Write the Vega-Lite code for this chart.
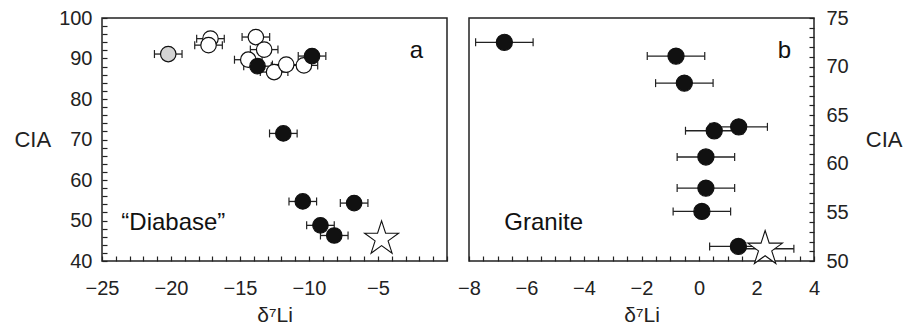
{
  "$schema": "https://vega.github.io/schema/vega-lite/v6.json",
  "spacing": 7,
  "padding": {"left": 13, "top": 7, "right": 0, "bottom": 0},
  "config": {
    "view": {"stroke": "#222", "strokeWidth": 1.5},
    "font": "Liberation Sans",
    "axis": {
      "grid": false,
      "domain": false,
      "tickColor": "#222",
      "tickWidth": 1.2,
      "tickSize": -5,
      "labelColor": "#222",
      "labelFontSize": 20,
      "labelFlush": false,
      "labelOverlap": false,
      "titleFontSize": 21,
      "titleFontWeight": "normal",
      "titleColor": "#222"
    }
  },
  "datasets": {
    "diabase": [
      {"kind": "grey", "d7li": -20.2, "cia": 91.1, "lo": -21.2, "hi": -19.2},
      {"kind": "open", "d7li": -17.14, "cia": 94.9, "lo": -18.14, "hi": -16.14},
      {"kind": "open", "d7li": -17.28, "cia": 93.3, "lo": -18.28, "hi": -16.28},
      {"kind": "open", "d7li": -13.85, "cia": 95.3, "lo": -14.85, "hi": -12.85},
      {"kind": "open", "d7li": -13.25, "cia": 92.2, "lo": -14.25, "hi": -12.25},
      {"kind": "open", "d7li": -14.4, "cia": 89.7, "lo": -15.4, "hi": -13.4},
      {"kind": "open", "d7li": -12.53, "cia": 86.65, "lo": -13.53, "hi": -11.53},
      {"kind": "open", "d7li": -11.65, "cia": 88.5, "lo": -12.65, "hi": -10.65},
      {"kind": "open", "d7li": -10.37, "cia": 88.3, "lo": -11.37, "hi": -9.37},
      {"kind": "filled", "d7li": -13.73, "cia": 88.1, "lo": -14.73, "hi": -12.73},
      {"kind": "filled", "d7li": -9.78, "cia": 90.6, "lo": -10.78, "hi": -8.78},
      {"kind": "filled", "d7li": -11.86, "cia": 71.5, "lo": -12.86, "hi": -10.86},
      {"kind": "filled", "d7li": -10.45, "cia": 54.7, "lo": -11.45, "hi": -9.45},
      {"kind": "filled", "d7li": -6.73, "cia": 54.3, "lo": -7.73, "hi": -5.73},
      {"kind": "filled", "d7li": -9.17, "cia": 48.8, "lo": -10.17, "hi": -8.17},
      {"kind": "filled", "d7li": -8.17, "cia": 46.3, "lo": -9.17, "hi": -7.17},
      {"kind": "star", "d7li": -4.74, "cia": 45.5},
      {"kind": "label", "d7li": -23.6, "cia": 47.7, "label": "“Diabase”"},
      {"kind": "label", "d7li": -2.7, "cia": 90.1, "label": "a"}
    ],
    "granite": [
      {"kind": "filled", "d7li": -6.77, "cia": 72.5, "lo": -7.77, "hi": -5.77},
      {"kind": "filled", "d7li": -0.8, "cia": 71.08, "lo": -1.8, "hi": 0.2},
      {"kind": "filled", "d7li": -0.51, "cia": 68.3, "lo": -1.51, "hi": 0.49},
      {"kind": "filled", "d7li": 0.53, "cia": 63.4, "lo": -0.47, "hi": 1.53},
      {"kind": "filled", "d7li": 1.38, "cia": 63.8, "lo": 0.38, "hi": 2.38},
      {"kind": "filled", "d7li": 0.24, "cia": 60.7, "lo": -0.76, "hi": 1.24},
      {"kind": "filled", "d7li": 0.24, "cia": 57.5, "lo": -0.76, "hi": 1.24},
      {"kind": "filled", "d7li": 0.1, "cia": 55.1, "lo": -0.9, "hi": 1.1},
      {"kind": "filled", "d7li": 1.37, "cia": 51.5, "lo": 0.37, "hi": 2.37},
      {"kind": "star", "d7li": 2.3, "cia": 51.26, "lo": 1.3, "hi": 3.3},
      {"kind": "label", "d7li": -6.77, "cia": 53.2, "label": "Granite"},
      {"kind": "label", "d7li": 2.74, "cia": 70.87, "label": "b"}
    ]
  },
  "hconcat": [
    {
      "width": 345,
      "height": 243,
      "data": {"name": "diabase"},
      "encoding": {
        "x": {
          "field": "d7li", "type": "quantitative",
          "scale": {"domain": [-25, 0], "nice": false, "zero": false},
          "axis": {
            "title": "δ⁷Li",
            "values": [-25,-24,-23,-22,-21,-20,-19,-18,-17,-16,-15,-14,-13,-12,-11,-10,-9,-8,-7,-6,-5,-4,-3,-2,-1,0],
            "labelExpr": "datum.value % 5 === 0 && datum.value !== 0 ? datum.label : ''",
            "labelPadding": 22,
            "titlePadding": 6
          }
        },
        "y": {
          "field": "cia", "type": "quantitative",
          "scale": {"domain": [40, 100], "nice": false, "zero": false},
          "axis": {
            "title": "CIA",
            "values": [40,42,44,46,48,50,52,54,56,58,60,62,64,66,68,70,72,74,76,78,80,82,84,86,88,90,92,94,96,98,100],
            "labelExpr": "datum.value % 10 === 0 ? datum.label : ''",
            "labelPadding": 15,
            "titleAngle": 0,
            "titleAlign": "right",
            "titleBaseline": "middle",
            "titleFontSize": 22,
            "titlePadding": 8
          }
        }
      },
      "layer": [
        {
          "transform": [{"filter": "isValid(datum.lo)"}],
          "mark": {"type": "rule", "color": "#222", "strokeWidth": 1.3},
          "encoding": {
            "x": {"field": "lo", "type": "quantitative"},
            "x2": {"field": "hi"}
          }
        },
        {
          "transform": [{"filter": "isValid(datum.lo)"}],
          "mark": {"type": "tick", "orient": "vertical", "size": 8, "thickness": 1.2, "color": "#222", "opacity": 1},
          "encoding": {
            "x": {"field": "lo", "type": "quantitative"}
          }
        },
        {
          "transform": [{"filter": "isValid(datum.lo)"}],
          "mark": {"type": "tick", "orient": "vertical", "size": 8, "thickness": 1.2, "color": "#222", "opacity": 1},
          "encoding": {
            "x": {"field": "hi", "type": "quantitative"}
          }
        },
        {
          "transform": [{"filter": "datum.kind === 'grey' || datum.kind === 'open' || datum.kind === 'filled'"}],
          "mark": {"type": "point", "shape": "circle", "filled": false, "stroke": "#111", "strokeWidth": 1.2, "size": 240, "opacity": 1},
          "encoding": {
            "fill": {
              "field": "kind", "type": "nominal", "legend": null,
              "scale": {"domain": ["grey", "open", "filled"], "range": ["#d4d4d4", "#ffffff", "#111111"]}
            }
          }
        },
        {
          "transform": [{"filter": "datum.kind === 'star'"}],
          "mark": {"type": "point", "shape": "M0,-1L0.2245,-0.309L0.951,-0.309L0.363,0.118L0.588,0.809L0,0.382L-0.588,0.809L-0.363,0.118L-0.951,-0.309L-0.2245,-0.309Z", "filled": false, "fill": "white", "stroke": "#111", "strokeWidth": 1.1, "size": 1280, "opacity": 1}
        },
        {
          "transform": [{"filter": "datum.kind === 'label'"}],
          "mark": {"type": "text", "align": "left", "baseline": "alphabetic", "fontSize": 24, "color": "#111"},
          "encoding": {
            "text": {"field": "label", "type": "nominal"}
          }
        }
      ]
    },
    {
      "width": 345,
      "height": 243,
      "data": {"name": "granite"},
      "encoding": {
        "x": {
          "field": "d7li", "type": "quantitative",
          "scale": {"domain": [-8, 4], "nice": false, "zero": false},
          "axis": {
            "title": "δ⁷Li",
            "values": [-8,-7.5,-7,-6.5,-6,-5.5,-5,-4.5,-4,-3.5,-3,-2.5,-2,-1.5,-1,-0.5,0,0.5,1,1.5,2,2.5,3,3.5,4],
            "labelExpr": "datum.value % 2 === 0 ? format(datum.value, 'd') : ''",
            "labelPadding": 22,
            "titlePadding": 6
          }
        },
        "y": {
          "field": "cia", "type": "quantitative",
          "scale": {"domain": [50, 75], "nice": false, "zero": false},
          "axis": {
            "orient": "right",
            "title": "CIA",
            "values": [50,51,52,53,54,55,56,57,58,59,60,61,62,63,64,65,66,67,68,69,70,71,72,73,74,75],
            "labelExpr": "datum.value % 5 === 0 ? datum.label : ''",
            "labelPadding": 17,
            "titleAngle": 0,
            "titleAlign": "left",
            "titleBaseline": "middle",
            "titleFontSize": 22,
            "titlePadding": 17
          }
        }
      },
      "layer": [
        {
          "transform": [{"filter": "isValid(datum.lo)"}],
          "mark": {"type": "rule", "color": "#222", "strokeWidth": 1.3},
          "encoding": {
            "x": {"field": "lo", "type": "quantitative"},
            "x2": {"field": "hi"}
          }
        },
        {
          "transform": [{"filter": "isValid(datum.lo)"}],
          "mark": {"type": "tick", "orient": "vertical", "size": 8, "thickness": 1.2, "color": "#222", "opacity": 1},
          "encoding": {
            "x": {"field": "lo", "type": "quantitative"}
          }
        },
        {
          "transform": [{"filter": "isValid(datum.lo)"}],
          "mark": {"type": "tick", "orient": "vertical", "size": 8, "thickness": 1.2, "color": "#222", "opacity": 1},
          "encoding": {
            "x": {"field": "hi", "type": "quantitative"}
          }
        },
        {
          "transform": [{"filter": "datum.kind === 'star'"}],
          "mark": {"type": "point", "shape": "M0,-1L0.2245,-0.309L0.951,-0.309L0.363,0.118L0.588,0.809L0,0.382L-0.588,0.809L-0.363,0.118L-0.951,-0.309L-0.2245,-0.309Z", "filled": false, "fill": "white", "stroke": "#111", "strokeWidth": 1.1, "size": 1330, "opacity": 1}
        },
        {
          "transform": [{"filter": "datum.kind === 'filled'"}],
          "mark": {"type": "point", "shape": "circle", "filled": true, "color": "#111", "stroke": "#111", "strokeWidth": 1.2, "size": 260, "opacity": 1}
        },
        {
          "transform": [{"filter": "datum.kind === 'label'"}],
          "mark": {"type": "text", "align": "left", "baseline": "alphabetic", "fontSize": 24, "color": "#111"},
          "encoding": {
            "text": {"field": "label", "type": "nominal"}
          }
        }
      ]
    }
  ]
}
